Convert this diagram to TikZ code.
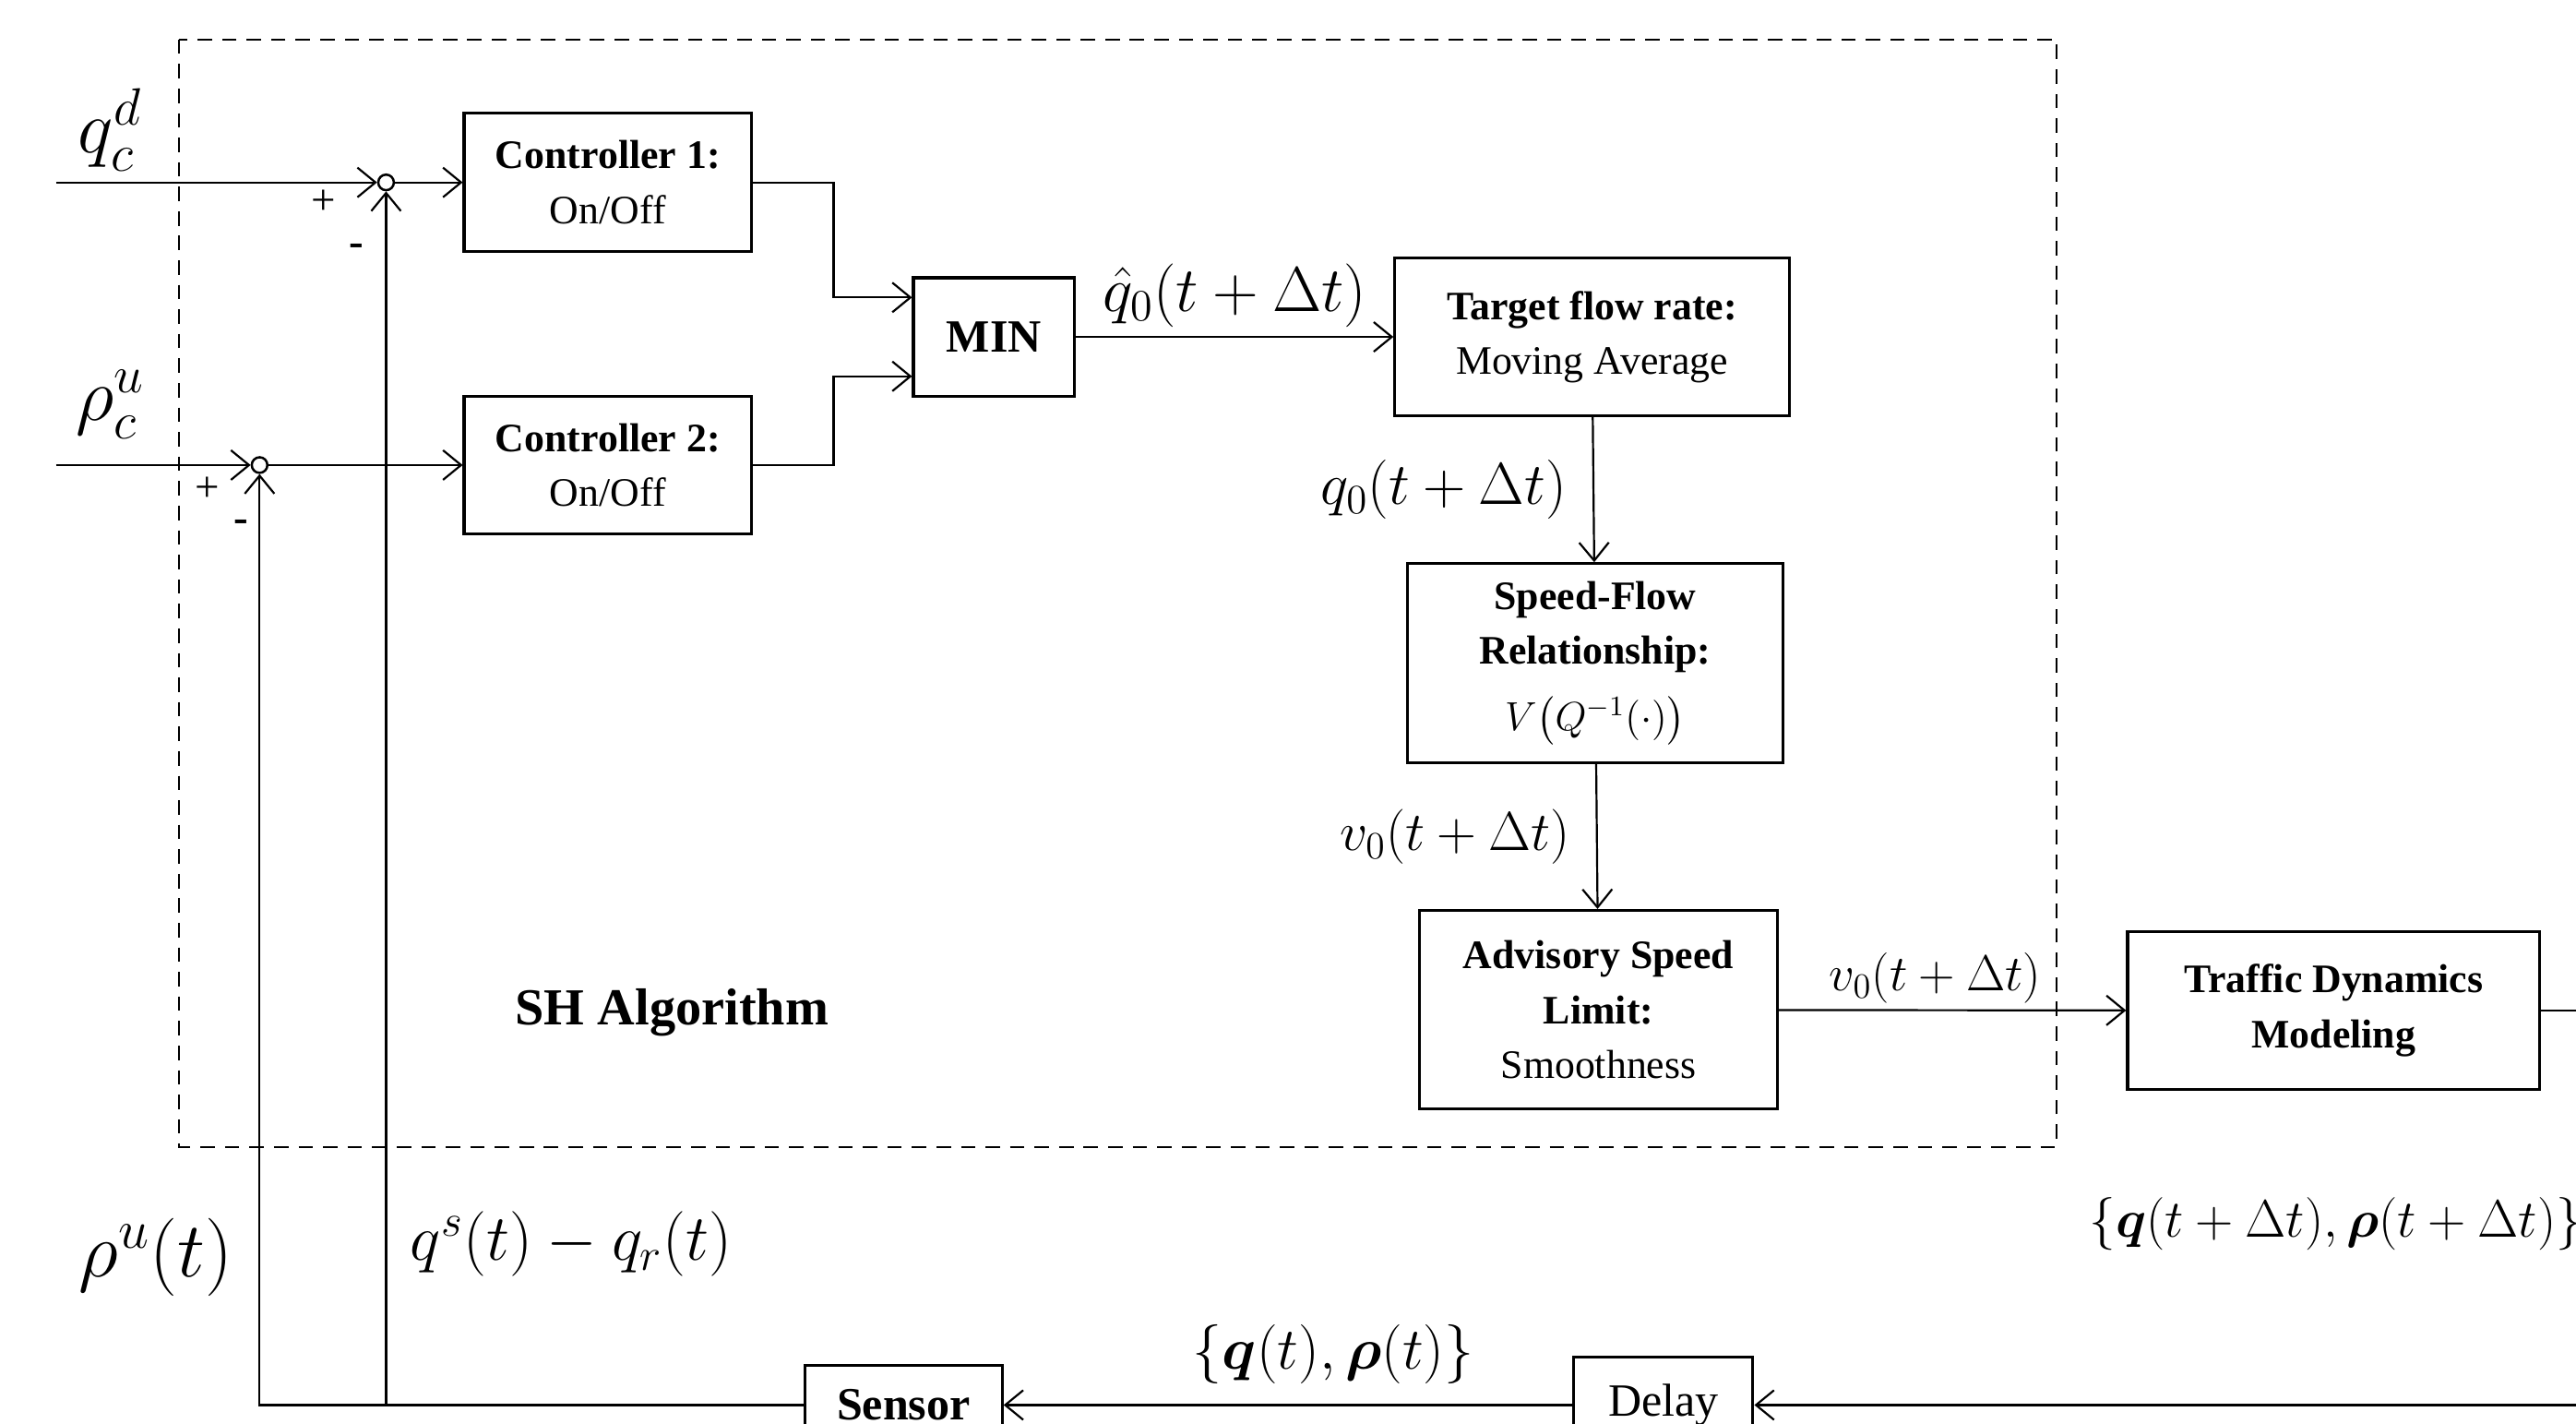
\RequirePackage{fix-cm}
\documentclass[tikz,border=0pt]{standalone}
\usepackage{amsmath,amssymb}
\usepackage{fontspec}
\setmainfont{Liberation Serif}
\usepackage{tikz}
\usetikzlibrary{arrows.meta,positioning,calc}

\begin{document}
\begin{tikzpicture}[x=0.02cm, y=-0.02cm,
    block/.style={rectangle, draw, line width=1pt, align=center, inner sep=2pt, font=\fontsize{14}{19}\selectfont},
    sumnode/.style={circle, draw, line width=0.8pt, minimum size=0.19cm, inner sep=0pt},
    lbl/.style={font=\fontsize{20.5}{22}\selectfont, inner sep=2pt},
    lblbig/.style={font=\fontsize{22.5}{25}\selectfont, inner sep=2pt},
    sign/.style={font=\fontsize{15}{15}\selectfont, inner sep=0pt},
    line/.style={line width=0.7pt},
    arrow/.style={line width=0.7pt, -{Straight Barb[length=2.2mm,width=3.6mm]}}]

    \useasboundingbox (0,0) rectangle (1568,866);

    % SH algorithm frame
    \draw[line width=0.7pt, dash pattern=on 5pt off 3.5pt] (109,24) rectangle (1252,698);
    \node[font={\fontsize{18}{20}\selectfont\bfseries}] (shlab) at (409,616) {SH Algorithm};

    % inputs and summing points
    \coordinate (qin) at (34,111);
    \coordinate (rin) at (34,283);
    \node[sumnode] (sum1) at (235,111) {};
    \node[sumnode] (sum2) at (158,283) {};
    \node[font=\fontsize{26}{28}\selectfont] (qcd) at (67,79) {$q_c^d$};
    \node[font=\fontsize{26}{28}\selectfont] (rcu) at (67,246) {$\rho_c^u$};
    \node[sign] (p1) at ([shift={(-38,12)}]sum1) {+};
    \node[sign] (m1) at ([shift={(-18,41)}]sum1) {\textbf{-}};
    \node[sign] (p2) at ([shift={(-32,15)}]sum2) {+};
    \node[sign] (m2) at ([shift={(-11,37)}]sum2) {\textbf{-}};

    % blocks
    \node[block, minimum width=3.5cm, minimum height=1.68cm] (c1) at (370,111) {\textbf{Controller 1:}\\On/Off};
    \node[block, minimum width=3.5cm, minimum height=1.68cm] (c2) at (370,283) {\textbf{Controller 2:}\\On/Off};
    \node[block, minimum width=1.96cm, minimum height=1.44cm, font={\fontsize{16}{18}\selectfont\bfseries}] (minb) at (605,205) {MIN};
    \node[block, minimum width=4.8cm, minimum height=1.92cm] (target) at (969,205) {\textbf{Target flow rate:}\\Moving Average};
    \node[block, minimum width=4.58cm, minimum height=2.42cm] (sflow) at (971,403.5) {\textbf{Speed-Flow}\\\textbf{Relationship:}\\[4pt]$V\big(Q^{-1}(\cdot)\big)$};
    \node[block, minimum width=4.36cm, minimum height=2.42cm] (asl) at (973,614.5) {\textbf{Advisory Speed}\\\textbf{Limit:}\\Smoothness};
    \node[block, minimum width=5.02cm, minimum height=1.92cm] (traffic) at (1420.5,615) {\textbf{Traffic Dynamics}\\\textbf{Modeling}};
    \node[block, minimum width=2.4cm, minimum height=0.96cm, font={\fontsize{16}{18}\selectfont\bfseries}] (sensor) at (550,855) {Sensor};
    \node[block, minimum width=2.18cm, minimum height=1.16cm, font=\fontsize{16}{18}\selectfont] (delay) at (1012.5,855) {Delay};

    % forward path
    \draw[arrow] (qin) -- (sum1);
    \draw[arrow] (rin) -- (sum2);
    \draw[arrow] (sum1) -- (c1);
    \draw[arrow] (sum2) -- (c2);
    \draw[arrow] (c1.east) -- ++(49,0) |- ([yshift=0.48cm]minb.west);
    \draw[arrow] (c2.east) -- ++(49,0) |- ([yshift=-0.48cm]minb.west);
    \draw[arrow] (minb) -- (target) node[midway, above=1pt, lbl, font=\fontsize{22}{24}\selectfont] (lqhat) {$\hat{q}_0(t+\Delta t)$};
    \draw[arrow] (target) -- (sflow) node[midway, left=7pt, lbl] (lq0) {$q_0(t+\Delta t)$};
    \draw[arrow] (sflow) -- (asl) node[midway, left=7pt, lbl, font=\fontsize{19}{21}\selectfont] (lv0) {$v_0(t+\Delta t)$};
    \draw[arrow] (asl) -- (traffic) node[pos=0.45, above, lbl, font=\fontsize{17.5}{19}\selectfont] (lv0b) {$v_0(t+\Delta t)$};

    % feedback path
    \coordinate (fb) at (1620,735);
    \draw[line] (traffic.east) -| (fb);
    \draw[arrow] (fb) |- (delay.east);
    \node[lbl, font=\fontsize{18.3}{20}\selectfont, anchor=west] (lqnext) at (1268,745) {$\{\boldsymbol{q}(t+\Delta t),\boldsymbol{\rho}(t+\Delta t)\}$};
    \draw[arrow] (delay) -- (sensor) node[pos=0.42, above=5pt, lbl] (lqt) {$\{\boldsymbol{q}(t),\boldsymbol{\rho}(t)\}$};
    \draw[arrow] (sensor.west) -| (sum2);
    \draw[arrow] (sensor.west -| sum1) -- (sum1);
    \node[lblbig, font=\fontsize{27}{29}\selectfont] (lrho) at (95,765) {$\rho^u(t)$};
    \node[lblbig, anchor=west] (lqs) at (246,757) {$q^s(t)-q_r(t)$};

\end{tikzpicture}
\end{document}
